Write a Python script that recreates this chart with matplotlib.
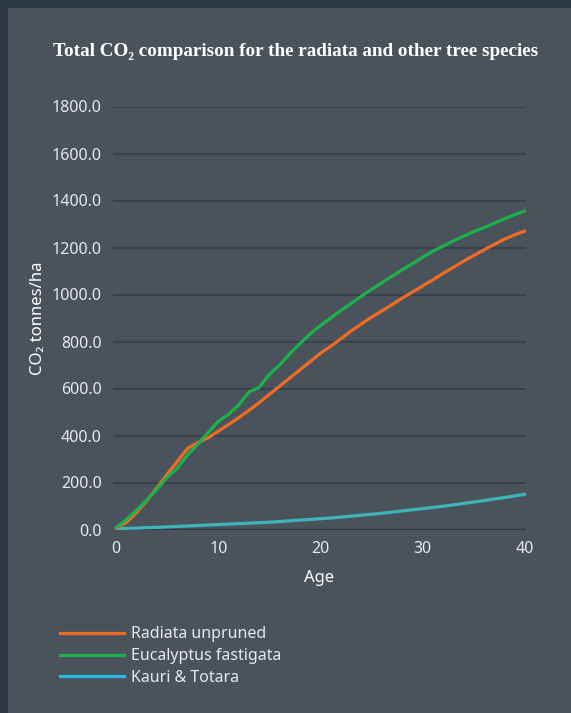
import matplotlib
matplotlib.use("Agg")
import matplotlib.pyplot as plt
from matplotlib.lines import Line2D
from matplotlib.patches import Rectangle

# Stand age in years
age = list(range(0, 41))

# Total CO2 (tonnes/ha) by age
radiata_unpruned = [5, 30, 72, 122, 178, 235, 290, 345, 370, 390,
                    418, 447, 476, 507, 540, 575, 610, 645, 680, 715,
                    750, 780, 812, 845, 875, 904, 930, 957, 985, 1010,
                    1037, 1063, 1090, 1116, 1142, 1166, 1190, 1213, 1236, 1254,
                    1270]
eucalyptus_fastigata = [8, 42, 82, 125, 172, 222, 262, 318, 363, 412,
                        460, 490, 530, 585, 605, 660, 700, 748, 792, 833,
                        868, 900, 932, 962, 993, 1022, 1050, 1078, 1105, 1132,
                        1158, 1185, 1206, 1228, 1248, 1268, 1285, 1303, 1322, 1340,
                        1356]
kauri_totara = [3, 5, 6, 8, 9, 11, 13, 15, 17, 19,
                21, 23, 25, 27, 29, 31, 34, 37, 40, 43,
                46, 49, 53, 57, 61, 65, 69, 74, 79, 84,
                89, 94, 99, 105, 111, 117, 123, 130, 136, 143,
                150]

series_names = ["Radiata unpruned", "Eucalyptus fastigata", "Kauri & Totara"]
y_ticks = [0, 200, 400, 600, 800, 1000, 1200, 1400, 1600, 1800]
x_ticks = [0, 10, 20, 30, 40]

BG = "#4a535c"
FRAME = "#2b3a44"
GRID = "#38424a"
TEXT = "#e6e8ea"
C_RAD = "#f26b24"
C_EUC = "#1bb24b"
C_KAU = "#3db4b5"
C_KAU_KEY = "#2bb9e6"

W, H = 571, 713
fig = plt.figure(figsize=(W / 100, H / 100), dpi=100)
fig.patch.set_facecolor(BG)

# dark frame along the top and left edges
fig.add_artist(Rectangle((0, 1 - 8 / H), 1, 8 / H, transform=fig.transFigure,
                         facecolor=FRAME, edgecolor="none", zorder=0))
fig.add_artist(Rectangle((0, 0), 8 / W, 1, transform=fig.transFigure,
                         facecolor=FRAME, edgecolor="none", zorder=0))

ax_l, ax_r = 113 / W, 525.5 / W
ax_b, ax_t = 1 - 529.5 / H, 1 - 106.5 / H
ax = fig.add_axes([ax_l, ax_b, ax_r - ax_l, ax_t - ax_b])
ax.set_facecolor(BG)

ax.set_xlim(-0.3, 40.05)
ax.set_ylim(0, 1800)

for s in ax.spines.values():
    s.set_visible(False)

for v in y_ticks[1:]:
    ax.axhline(v, color=GRID, lw=1.6, zorder=1)
ax.axhline(0, color=FRAME, lw=2.4, zorder=1)

ax.plot(age, radiata_unpruned, color=C_RAD, lw=2.3, zorder=3,
        solid_joinstyle="round", solid_capstyle="round")
ax.plot(age, eucalyptus_fastigata, color=C_EUC, lw=2.3, zorder=4,
        solid_joinstyle="round", solid_capstyle="round")
ax.plot(age, kauri_totara, color=C_KAU, lw=2.3, zorder=2,
        solid_joinstyle="round", solid_capstyle="round")

tick_font = "Noto Sans"
ax.set_yticks(y_ticks)
ax.set_yticklabels([f"{v:.1f}" for v in y_ticks], family=tick_font,
                   fontsize=11.5, color=TEXT)
ax.set_xticks(x_ticks)
ax.set_xticklabels([str(v) for v in x_ticks], family=tick_font,
                   fontsize=11.5, color=TEXT)
ax.tick_params(axis="y", length=0, pad=8)
ax.tick_params(axis="x", length=0, pad=8)

ax.set_xlabel("Age", family=tick_font, fontsize=12, fontweight="semibold",
              color="white", labelpad=10)
ax.set_ylabel("CO₂ tonnes/ha", family=tick_font, fontsize=12,
              fontweight="semibold", color="white", labelpad=4)

fig.text(53 / W, 1 - 51 / H,
         "Total CO₂ comparison for the radiata and other tree species",
         family=["Liberation Serif", "DejaVu Serif"], fontweight="bold",
         fontsize=13.8, color="white", ha="left", va="center")

handles = [Line2D([], [], color=C_RAD, lw=2.3),
           Line2D([], [], color=C_EUC, lw=2.3),
           Line2D([], [], color=C_KAU_KEY, lw=2.3)]
leg = fig.legend(handles, series_names, loc="upper left",
                 bbox_to_anchor=(46 / W, 1 - 612 / H),
                 frameon=False, handlelength=4.0, handletextpad=0.45,
                 labelspacing=0.36, prop={"family": tick_font, "size": 11.5})
for t in leg.get_texts():
    t.set_color(TEXT)

fig.savefig("out.png", dpi=100, facecolor=BG)
